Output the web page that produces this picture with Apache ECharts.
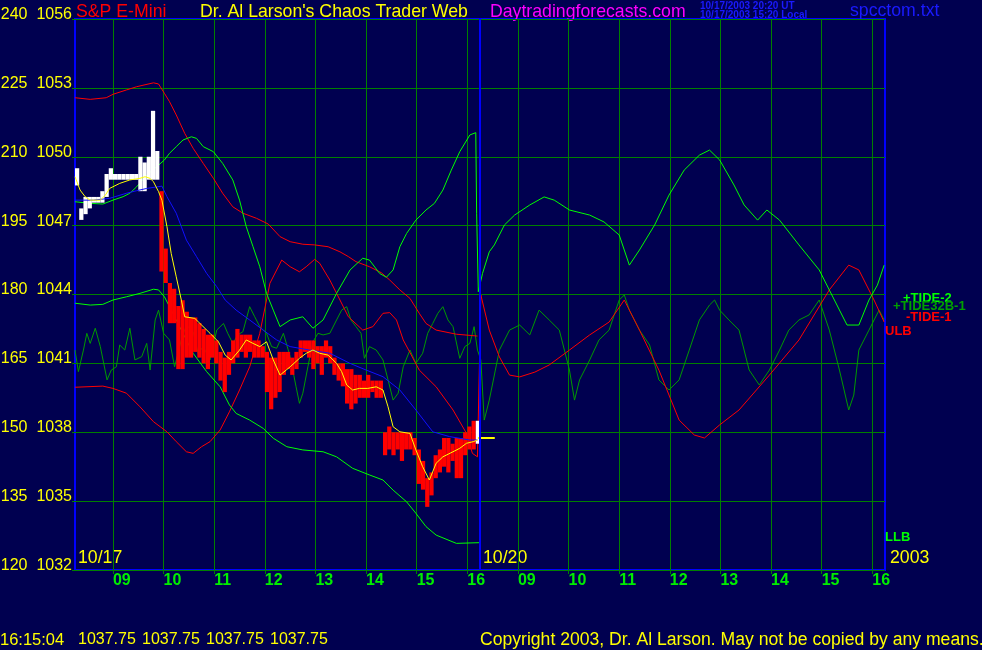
<!DOCTYPE html>
<html><head><meta charset="utf-8">
<script src="https://cdn.jsdelivr.net/npm/echarts@6/dist/echarts.min.js"></script>
<style>html,body{margin:0;padding:0;background:#000050;}#c{width:982px;height:650px;}</style>
</head><body><div id="c"></div>
<script>
// ---- axis tick labels ----
const oscTicks = [120, 135, 150, 165, 180, 195, 210, 225, 240];
const priceMin = 1032, priceMax = 1056, priceStep = 3;
const hourLabels = ['09', '10', '11', '12', '13', '14', '15', '16'];
const sessionDates = ['10/17', '10/20'];
const yearLabel = '2003';
// x unit: minutes since 08:00 of 10/17; the 10/20 session is offset by 480 minutes
const sessionOffset = 480;
const xMin = 15, xMax = 975, sessionBreak = 495;

// ---- price bars (5 minute bars, 08:15 .. 16:15 on 10/17) ----
const barStart = 15, barMinutes = 5, whiteBars = 20;
const barHigh = [1049.5,1047.75,1048.25,1048.25,1048.25,1048.25,1048.5,1049.25,1049.5,1049.25,
  1049.25,1049.25,1049.25,1049.25,1049.25,1050.0,1049.75,1050.0,1052.0,1050.25,
  1048.5,1046.0,1044.5,1044.25,1043.5,1043.75,1043.25,1043.0,1043.0,1042.75,
  1042.5,1042.25,1042.25,1042.0,1041.5,1041.25,1041.5,1042.0,1042.5,1042.25,
  1042.25,1042.25,1042.0,1042.0,1041.75,1041.5,1041.25,1041.25,1041.5,1041.5,
  1041.5,1041.25,1041.5,1042.0,1042.0,1042.0,1042.0,1041.75,1041.75,1042.0,
  1041.75,1041.25,1041.0,1041.0,1040.75,1040.75,1040.5,1040.5,1040.25,1040.5,
  1040.25,1040.25,1040.25,1038.0,1038.25,1038.0,1038.0,1038.0,1038.0,1038.0,
  1037.75,1037.25,1036.75,1036.0,1036.25,1037.0,1037.25,1037.75,1037.75,1037.5,
  1037.75,1037.75,1038.0,1038.25,1038.5,1038.5];
const barLow = [1048.75,1047.25,1047.5,1047.75,1048.0,1048.0,1048.0,1048.25,1049.0,1049.0,
  1049.0,1049.0,1049.0,1049.0,1049.0,1048.5,1048.5,1049.0,1049.0,1049.0,
  1045.0,1044.5,1042.75,1042.75,1040.75,1040.75,1041.25,1041.25,1041.5,1041.25,
  1041.0,1040.75,1041.25,1041.0,1040.25,1039.75,1040.5,1041.0,1041.25,1041.5,
  1041.25,1041.5,1041.25,1041.25,1041.25,1039.75,1039.0,1039.5,1039.75,1040.5,
  1040.75,1040.5,1040.75,1041.25,1041.5,1041.25,1040.75,1041.0,1040.5,1041.25,
  1041.0,1040.5,1040.25,1040.0,1039.25,1039.0,1039.25,1039.5,1039.5,1039.5,
  1039.75,1039.5,1039.5,1037.0,1037.25,1037.0,1037.25,1036.75,1037.25,1037.25,
  1037.0,1035.75,1035.5,1034.75,1035.25,1036.0,1036.25,1036.5,1036.25,1036.75,
  1036.0,1036.0,1037.0,1037.25,1037.25,1037.5];
const lastPrice = 1037.75;
const quoteTime = '16:15:04';
const quoteValues = ['1037.75', '1037.75', '1037.75', '1037.75'];

// ---- lines [minute, price] ----
const yellowAvg = [[15,1049.13],[21,1048.55],[27,1048.26],[33,1048.11],[45,1048.11],[51,1048.33],[56,1048.62],[68,1048.84],[80,1048.99],[92,1049.06],[98,1049.13],[104,1049.06],[108,1048.91],[110,1048.99],[114,1048.48],[118,1048.11],[124,1046.95],[129,1045.79],[135,1044.77],[141,1043.76],[145,1043.03],[157,1042.96],[165,1042.67],[175,1042.31],[185,1041.94],[193,1041.36],[200,1041.15],[210,1041.58],[218,1042.02],[226,1041.87],[234,1041.73],[242,1041.94],[250,1041.15],[258,1040.49],[270,1040.85],[281,1041.22],[289,1041.44],[297,1041.58],[305,1041.44],[315,1041.36],[325,1041.0],[331,1040.64],[337,1040.06],[344,1039.84],[352,1039.91],[362,1039.91],[372,1039.98],[380,1039.84],[386,1039.11],[392,1038.24],[400,1038.02],[412,1037.95],[419,1037.23],[427,1036.5],[435,1035.92],[443,1036.65],[451,1036.93],[463,1037.15],[471,1037.3],[479,1037.52],[487,1037.59],[492,1037.66]];
const blueAvg = [[15,1048.11],[37,1048.11],[56,1048.19],[76,1048.41],[88,1048.52],[100,1048.62],[118,1048.72],[124,1048.26],[135,1047.54],[147,1046.37],[159,1045.65],[171,1044.92],[183,1044.34],[193,1043.76],[206,1043.32],[222,1042.89],[238,1042.45],[254,1042.02],[270,1041.73],[293,1041.58],[317,1041.44],[341,1041.0],[360,1040.71],[380,1040.42],[400,1039.84],[419,1038.97],[439,1038.02],[459,1037.81],[483,1037.66],[492,1037.66]];
const upperBand = [[15,1052.57],[33,1052.5],[52,1052.57],[60,1052.72],[76,1052.91],[88,1053.05],[108,1053.22],[114,1053.17],[121,1052.76],[127,1052.4],[135,1051.82],[145,1051.02],[155,1050.37],[167,1049.71],[179,1049.06],[190,1048.41],[202,1047.82],[214,1047.54],[230,1047.32],[244,1047.07],[258,1046.52],[270,1046.3],[285,1046.19],[299,1046.16],[315,1046.08],[329,1045.86],[339,1045.65],[348,1045.43],[364,1045.21],[378,1044.95],[388,1044.63],[400,1044.2],[412,1043.83],[423,1043.18],[431,1042.74],[443,1042.45],[467,1042.27],[492,1042.19]];
const lowerBand = [[15,1043.62],[33,1043.54],[48,1043.57],[60,1043.76],[76,1043.9],[92,1044.05],[108,1044.23],[114,1044.2],[121,1043.9],[127,1043.47],[139,1042.6],[155,1041.44],[171,1040.64],[187,1039.98],[198,1039.19],[206,1038.82],[222,1038.53],[238,1038.17],[250,1037.74],[266,1037.37],[285,1037.23],[309,1037.15],[325,1036.93],[344,1036.43],[364,1036.14],[380,1035.92],[392,1035.48],[408,1034.97],[419,1034.47],[431,1033.89],[443,1033.52],[467,1033.16],[494,1033.19]];
const tide1 = [[15,1039.96],[48,1040.01],[60,1039.91],[76,1039.7],[92,1039.11],[108,1038.46],[124,1038.02],[135,1037.59],[147,1037.15],[155,1037.08],[165,1037.37],[175,1037.59],[187,1038.1],[198,1038.89],[210,1039.84],[222,1040.85],[234,1042.31],[242,1043.76],[246,1044.49],[260,1045.5],[270,1045.21],[281,1044.99],[289,1045.21],[299,1045.53],[305,1045.36],[317,1044.63],[329,1043.76],[339,1043.03],[356,1042.45],[368,1042.6],[380,1043.18],[388,1043.21],[396,1042.89],[404,1042.02],[423,1040.71],[443,1039.98],[463,1038.97],[479,1037.95],[486,1037.08],[492,1036.93],
  [496,1043.98],[506,1042.45],[518,1041.28],[530,1040.49],[542,1040.41],[560,1040.62],[577,1040.93],[601,1041.58],[625,1042.24],[648,1042.8],[666,1043.76],[684,1042.45],[707,1040.71],[731,1038.53],[749,1037.88],[761,1037.75],[779,1038.32],[802,1038.97],[838,1040.49],[873,1042.02],[909,1044.2],[932,1045.28],[944,1045.07],[962,1043.76],[974,1042.8]];
const tide2 = [[15,1048.04],[33,1047.97],[48,1047.94],[60,1048.11],[72,1048.26],[80,1048.41],[88,1048.69],[100,1049.2],[112,1049.57],[121,1049.86],[127,1050.15],[135,1050.44],[143,1050.73],[153,1050.87],[159,1050.8],[167,1050.44],[179,1050.22],[190,1049.71],[202,1048.99],[210,1048.11],[218,1046.95],[226,1046.08],[234,1045.21],[242,1044.05],[250,1043.32],[258,1042.6],[270,1042.89],[285,1043.03],[297,1042.53],[309,1042.89],[325,1044.05],[341,1045.07],[356,1045.58],[364,1045.5],[376,1044.92],[384,1044.75],[392,1045.07],[400,1046.08],[408,1046.66],[419,1047.24],[431,1047.68],[441,1047.97],[451,1048.55],[461,1049.42],[471,1050.22],[483,1050.95],[490,1051.05],[491,1047.54],[493,1044.12],
  [498,1044.92],[506,1045.86],[512,1046.16],[524,1047.03],[536,1047.46],[554,1047.9],[571,1048.25],[583,1048.11],[601,1047.68],[625,1047.46],[642,1047.16],[660,1046.59],[672,1045.28],[684,1045.94],[702,1047.03],[719,1048.33],[737,1049.42],[755,1050.07],[767,1050.29],[779,1049.86],[796,1048.77],[808,1047.9],[824,1047.24],[835,1047.68],[850,1047.24],[873,1046.16],[897,1045.07],[915,1043.76],[930,1042.67],[944,1042.67],[956,1043.76],[966,1044.41],[974,1045.28]];
const tide32b = [[15,1041.58],[19,1040.64],[25,1041.58],[29,1042.31],[33,1041.87],[39,1042.53],[45,1041.73],[53,1040.28],[58,1040.71],[64,1040.85],[68,1041.8],[74,1041.58],[80,1042.53],[86,1041.15],[94,1041.29],[100,1041.87],[104,1040.71],[110,1042.89],[114,1043.32],[120,1042.31],[127,1042.02],[133,1040.85],[141,1042.02],[147,1042.67],[155,1042.38],[161,1041.44],[167,1041.73],[175,1041.15],[183,1042.45],[191,1042.74],[196,1042.31],[202,1041.87],[208,1042.24],[214,1042.38],[222,1043.47],[228,1043.03],[234,1042.6],[242,1042.31],[248,1041.73],[254,1041.66],[262,1042.31],[270,1041.29],[277,1039.98],[281,1039.26],[285,1039.7],[291,1040.85],[297,1041.94],[303,1042.31],[309,1042.24],[317,1042.31],[325,1042.89],[331,1043.32],[337,1043.47],[342,1042.89],[348,1042.6],[354,1042.31],[358,1041.22],[364,1041.73],[372,1041.58],[380,1041.15],[386,1040.28],[392,1039.4],[398,1039.7],[404,1040.85],[412,1041.58],[419,1041.0],[427,1041.44],[433,1042.31],[439,1042.74],[445,1043.18],[451,1043.47],[457,1042.89],[463,1042.6],[471,1041.22],[477,1041.73],[483,1041.87],[488,1042.6],[492,1041.58],
  [496,1041.15],[500,1038.53],[506,1039.4],[518,1041.58],[530,1042.45],[542,1042.67],[554,1042.24],[565,1043.32],[577,1042.89],[589,1042.45],[601,1040.71],[607,1039.4],[613,1040.28],[625,1041.15],[636,1042.02],[648,1042.45],[660,1043.76],[666,1043.98],[672,1043.32],[684,1042.45],[696,1041.8],[707,1040.28],[719,1039.84],[731,1040.28],[743,1041.58],[755,1042.89],[767,1043.54],[773,1043.76],[779,1043.32],[790,1042.89],[802,1042.45],[814,1040.71],[826,1040.06],[838,1040.71],[850,1041.58],[861,1042.45],[873,1042.89],[885,1043.11],[897,1043.76],[909,1042.45],[921,1040.71],[932,1038.97],[938,1039.62],[944,1041.58],[956,1042.45],[968,1043.32],[974,1042.89]];

// ---- derived axis values ----
const tickTimes = [];
const tickText = {};
sessionDates.forEach((d, s) => hourLabels.forEach(h => {
  const t = s * sessionOffset + (parseInt(h, 10) - 8) * 60;
  tickTimes.push(t); tickText[t] = h;
}));
const barData = barHigh.map((h, i) => [barStart + barMinutes * i + barMinutes / 2, h, barLow[i]]);

const chart = echarts.init(document.getElementById('c'), null, {renderer: 'canvas'});
const FONT = 'Liberation Sans, Arial, sans-serif';
function lineSeries(name, data, color, z) {
  return {name, type: 'line', data, showSymbol: false, symbol: 'none', z,
    lineStyle: {color, width: 1}, emphasis: {disabled: true}, silent: true};
}
function txt(x, y, text, color, size) {
  return {type: 'text', x, y, silent: true,
    style: {text, fill: color, font: (size || 17.7) + 'px ' + FONT, textVerticalAlign: 'middle'}};
}
function bold(x, y, text, color, size) {
  return {type: 'text', x, y, silent: true, style: {text, fill: color, font: 'bold ' + size + 'px ' + FONT, textVerticalAlign: 'middle'}};
}

const quoteX = [78, 142, 206, 270];
const option = {
  backgroundColor: '#000050',
  animation: false,
  grid: {left: 75, right: 97, top: 19, bottom: 80, containLabel: false, outerBoundsMode: 'none',
    show: true, borderColor: '#0000ff', borderWidth: 2, backgroundColor: 'transparent'},
  xAxis: {
    type: 'value', min: xMin, max: xMax,
    axisLine: {show: false},
    axisTick: {show: true, customValues: tickTimes, length: 4, lineStyle: {color: '#008000'}},
    axisLabel: {customValues: tickTimes, formatter: v => tickText[v] || '', color: '#00ee00',
      fontSize: 16, fontWeight: 'bold', fontFamily: FONT, align: 'left', margin: 3},
    splitLine: {show: true, lineStyle: {color: '#008000', width: 1}}
  },
  yAxis: {
    type: 'value', min: priceMin, max: priceMax, interval: priceStep,
    axisLine: {show: false},
    axisTick: {show: true, length: 3, lineStyle: {color: '#008000'}},
    axisLabel: {color: '#ffff00', fontSize: 16, fontFamily: FONT, margin: 3, verticalAlign: 'bottom', lineHeight: 9,
      formatter: v => oscTicks[Math.round((v - priceMin) / priceStep)] + '  ' + v},
    splitLine: {show: true, lineStyle: {color: '#008000', width: 1}}
  },
  series: [
    lineSeries('+TIDE32B-1', tide32b, '#009a00', 2),
    lineSeries('ULB', upperBand, '#ff0000', 3),
    lineSeries('-TIDE-1', tide1, '#ff0000', 3),
    lineSeries('LLB', lowerBand, '#00ff00', 3),
    lineSeries('+TIDE-2', tide2, '#00ff00', 3),
    {
      name: 'bars', type: 'custom', data: barData, z: 4, silent: true,
      renderItem: (params, api) => {
        const t = api.value(0);
        const top = api.coord([t, api.value(1)]);
        const bot = api.coord([t, api.value(2)]);
        const w = api.size([barMinutes, 0])[0];
        const last = params.dataIndex === barHigh.length - 1;
        const white = params.dataIndex < whiteBars || last;
        const children = [{type: 'rect', shape: {x: top[0] - w / 2, y: top[1], width: w, height: Math.max(bot[1] - top[1], 2)},
          style: {fill: white ? '#ffffff' : '#ff0000'}}];
        if (last) {
          const c0 = api.coord([t, lastPrice]);
          const c1 = api.coord([t + 20, lastPrice]);
          children.push({type: 'rect', shape: {x: c0[0], y: c0[1] - 1, width: c1[0] - c0[0], height: 2}, style: {fill: '#ffff00'}});
        }
        return {type: 'group', children};
      },
      markLine: {silent: true, symbol: 'none', label: {show: false}, animation: false,
        lineStyle: {color: '#0000ff', width: 2, type: 'solid'}, data: [{xAxis: sessionBreak}]}
    },
    lineSeries('avg2', blueAvg, '#1010ff', 5),
    lineSeries('avg1', yellowAvg, '#ffff00', 6)
  ],
  graphic: [
    txt(76, 12, 'S&P E-Mini', '#ff0000'),
    txt(200, 12, "Dr. Al Larson's Chaos Trader Web", '#ffff00'),
    txt(490, 12, 'Daytradingforecasts.com', '#ff00ff'),
    bold(700, 6, '10/17/2003 20:20 UT', '#1a1aff', 10),
    bold(700, 15, '10/17/2003 15:20 Local', '#1a1aff', 10),
    txt(850, 11, 'spcctom.txt', '#1a1aff'),
    txt(78, 558, sessionDates[0], '#ffff00'),
    txt(483, 558, sessionDates[1], '#ffff00'),
    txt(890, 558, yearLabel, '#ffff00'),
    txt(0, 640, quoteTime, '#ffff00', 16.5),
    ...quoteValues.map((q, i) => txt(quoteX[i], 640, q, '#ffff00', 16)),
    txt(480, 640, 'Copyright 2003, Dr. Al Larson. May not be copied by any means.', '#ffff00', 17.6),
    bold(903, 298, '+TIDE-2', '#00ff00', 13),
    bold(893, 306, '+TIDE32B-1', '#00a000', 13),
    bold(906, 317, '-TIDE-1', '#ff0000', 13),
    bold(885, 331, 'ULB', '#ff0000', 13),
    bold(885, 537, 'LLB', '#00ff00', 13)
  ]
};
chart.setOption(option);
</script></body></html>
